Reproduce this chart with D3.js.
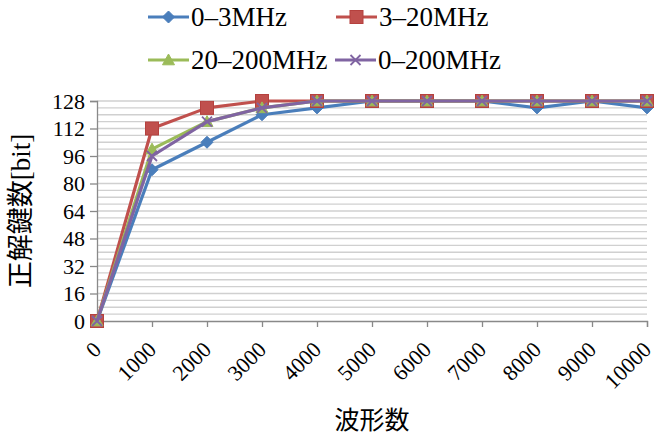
<!DOCTYPE html>
<html>
<head>
<meta charset="utf-8">
<script src="https://cdn.jsdelivr.net/npm/d3@7"></script>
<style>
  body { margin: 0; background: #fff; }
  svg { display: block; }
</style>
</head>
<body>
<div id="chart"></div>
<script>
// waveform counts (x) and recovered key bits (y)
const waveCounts = [0, 1000, 2000, 3000, 4000, 5000, 6000, 7000, 8000, 9000, 10000];
const band0to3 = [0, 88, 104, 120, 124, 128, 128, 128, 124, 128, 124];
const band3to20 = [0, 112, 124, 128, 128, 128, 128, 128, 128, 128, 128];
const band20to200 = [0, 100, 116, 124, 128, 128, 128, 128, 128, 128, 128];
const band0to200 = [0, 96, 116, 124, 128, 128, 128, 128, 128, 128, 128];
const seriesNames = ["0–3MHz", "3–20MHz", "20–200MHz", "0–200MHz"];
const yTicks = [0, 16, 32, 48, 64, 80, 96, 112, 128];
const yLabel = ["正解鍵数", "[bit]"];
const xLabel = "波形数";

const W = 658, H = 441;
const plot = {left: 97, right: 647, top: 101, bottom: 321};
const serifFont = '"Liberation Serif"';
const cjkFont = '"Noto Sans CJK JP"';

const series = [
  {name: seriesNames[0], values: band0to3, color: "#4a7ebb", marker: "diamond"},
  {name: seriesNames[1], values: band3to20, color: "#c0504d", marker: "square"},
  {name: seriesNames[2], values: band20to200, color: "#9bbb59", marker: "triangle"},
  {name: seriesNames[3], values: band0to200, color: "#8064a2", marker: "x"}
];

const svg = d3.select("#chart").append("svg")
  .attr("width", W)
  .attr("height", H);

const x = d3.scaleLinear().domain([0, 10000]).range([plot.left, plot.right]);
const y = d3.scaleLinear().domain([0, 128]).range([plot.bottom, plot.top]);

// minor gridlines every 4 bits
svg.append("g")
  .selectAll("line")
  .data(d3.range(4, 129, 4))
  .join("line")
    .attr("x1", plot.left).attr("x2", plot.right)
    .attr("y1", d => y(d)).attr("y2", d => y(d))
    .attr("stroke", "#d0d0d0")
    .attr("stroke-width", 1.3);

// y axis
const yAxis = svg.append("g")
  .attr("transform", `translate(${plot.left},0)`)
  .call(d3.axisLeft(y).tickValues(yTicks).tickSize(7).tickPadding(5))
  .attr("font-family", null)
  .attr("font-size", null);
yAxis.selectAll("text")
  .style("font-family", serifFont)
  .style("font-size", "22px")
  .attr("fill", "#000");

// x axis
const xAxis = svg.append("g")
  .attr("transform", `translate(0,${plot.bottom})`)
  .call(d3.axisBottom(x).tickValues(waveCounts).tickSize(6).tickFormat(d3.format("d")))
  .attr("font-family", null)
  .attr("font-size", null);
xAxis.selectAll("text")
  .style("font-family", serifFont)
  .style("font-size", "22px")
  .attr("fill", "#000")
  .attr("text-anchor", "end")
  .attr("dy", 0)
  .attr("y", 0)
  .attr("transform", "translate(5,30) rotate(-45)");

svg.selectAll(".domain, .tick line")
  .attr("stroke", "#898989")
  .attr("stroke-width", 1.3);

// axis titles
svg.append("text")
  .attr("transform", `translate(30,${(plot.top + plot.bottom) / 2}) rotate(-90)`)
  .attr("text-anchor", "middle")
  .style("font-size", "27px")
  .selectAll("tspan")
  .data([{t: yLabel[0], f: cjkFont}, {t: yLabel[1], f: serifFont}])
  .join("tspan")
    .style("font-family", d => d.f)
    .text(d => d.t);

svg.append("text")
  .attr("x", (plot.left + plot.right) / 2)
  .attr("y", 429)
  .attr("text-anchor", "middle")
  .style("font-family", cjkFont)
  .style("font-size", "25px")
  .text(xLabel);

// markers
function drawMarker(g, type, color, size) {
  const s = size / 2;
  if (type === "diamond") {
    g.append("path")
      .attr("d", `M0,${-s}L${s},0L0,${s}L${-s},0Z`)
      .attr("fill", color).attr("stroke", color).attr("stroke-width", 1);
  } else if (type === "square") {
    g.append("rect")
      .attr("x", -s).attr("y", -s).attr("width", size).attr("height", size)
      .attr("fill", color).attr("stroke", "#b5413e").attr("stroke-width", 1);
  } else if (type === "triangle") {
    g.append("path")
      .attr("d", `M0,${-s}L${s},${s * 0.8}L${-s},${s * 0.8}Z`)
      .attr("fill", color).attr("stroke", color).attr("stroke-width", 1);
  } else {
    g.append("path")
      .attr("d", `M${-s},${-s}L${s},${s}M${s},${-s}L${-s},${s}`)
      .attr("fill", "none").attr("stroke", color).attr("stroke-width", 1.8);
  }
}

const markerSize = {diamond: 12, square: 13, triangle: 12, x: 10};

const line = d3.line()
  .x((d, i) => x(waveCounts[i]))
  .y(d => y(d));

series.forEach(s => {
  const g = svg.append("g");
  g.append("path")
    .datum(s.values)
    .attr("d", line)
    .attr("fill", "none")
    .attr("stroke", s.color)
    .attr("stroke-width", 3.2)
    .attr("stroke-linejoin", "round");
  s.values.forEach((v, i) => {
    const m = g.append("g").attr("transform", `translate(${x(waveCounts[i])},${y(v)})`);
    drawMarker(m, s.marker, s.color, markerSize[s.marker]);
  });
});

// legend
const legendPos = [
  {lx: 148, ly: 17},
  {lx: 336, ly: 17},
  {lx: 148, ly: 60},
  {lx: 335, ly: 60}
];
series.forEach((s, i) => {
  const p = legendPos[i];
  const g = svg.append("g").attr("transform", `translate(${p.lx},${p.ly})`);
  g.append("line")
    .attr("x1", 0).attr("x2", 41)
    .attr("stroke", s.color).attr("stroke-width", 3.2);
  const m = g.append("g").attr("transform", "translate(20.5,0)");
  drawMarker(m, s.marker, s.color, markerSize[s.marker]);
  g.append("text")
    .attr("x", 43)
    .attr("y", 9)
    .style("font-family", serifFont)
    .style("font-size", "27px")
    .text(s.name);
});
</script>
</body>
</html>
